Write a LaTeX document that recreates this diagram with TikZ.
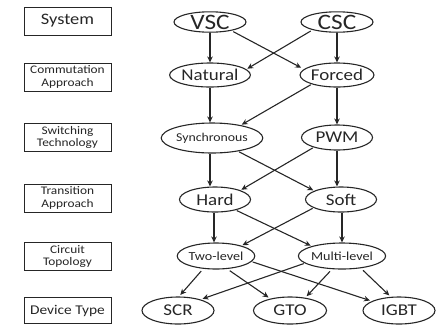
\documentclass[tikz,border=0pt]{standalone}
\usepackage{fontspec}
\setmainfont{Carlito}[FakeStretch=1.15]
\usetikzlibrary{shapes.geometric,arrows.meta}
\definecolor{ink}{HTML}{262626}
\begin{document}
\begin{tikzpicture}[x=1pt,y=-1pt,
  level/.style={draw=ink, line width=1pt, minimum width=87pt, minimum height=28pt,
    inner sep=0pt, align=center, text=ink, font=\fontsize{11.6}{12.5}\selectfont},
  opt/.style={ellipse, draw=ink, line width=1.1pt, inner sep=0pt,
    minimum width=72pt, minimum height=25pt, text=ink, font=\fontsize{16.5}{18}\selectfont},
  arr/.style={-{Stealth[length=6pt,width=5.5pt]}, line width=1.1pt, draw=ink}]
\useasboundingbox (0,0) rectangle (447,325);

% level labels on the left
\node[level, font=\fontsize{16}{18}\selectfont] (L1) at (67.5,21) {System};
\node[level] (L2) at (67.5,77) {Commutation\\Approach};
\node[level] (L3) at (67.5,137.5) {Switching\\Technology};
\node[level] (L4) at (67.5,198) {Transition\\Approach};
\node[level] (L5) at (67.5,256.5) {Circuit\\Topology};
\node[level, minimum height=26pt, font=\fontsize{13.4}{15}\selectfont] (L6) at (67.5,310.5) {Device Type};

% options per level
\node[opt, minimum height=20pt, font=\fontsize{22}{24}\selectfont] (VSC) at (210,22) {VSC};
\node[opt, minimum height=20pt, font=\fontsize{22}{24}\selectfont] (CSC) at (337,22) {CSC};
\node[opt, minimum height=24pt] (NAT) at (210,75) {Natural};
\node[opt, minimum height=24pt] (FOR) at (337,75) {Forced};
\node[opt, minimum width=81pt, minimum height=30pt, font=\fontsize{12}{14}\selectfont] (SYN) at (212,138) {Synchronous};
\node[opt, minimum width=71pt] (PWM) at (337,137.5) {PWM};
\node[opt, minimum width=71pt] (HARD) at (215,199.5) {Hard};
\node[opt, minimum width=71pt] (SOFT) at (341,199.5) {Soft};
\node[opt, minimum width=73pt, minimum height=26pt, font=\fontsize{12.3}{14}\selectfont] (TWO) at (216,256) {Two-level};
\node[opt, minimum width=73pt, minimum height=26pt, font=\fontsize{12.3}{14}\selectfont] (MUL) at (342,256) {Multi-level};
\node[opt, minimum height=27pt] (SCR) at (178,310.5) {SCR};
\node[opt, minimum width=73pt, minimum height=27pt] (GTO) at (290,310.5) {GTO};
\node[opt, minimum height=27pt] (IGBT) at (399,310.5) {IGBT};

% system -> commutation
\draw[arr] (VSC) -- (NAT);
\draw[arr] (CSC) -- (FOR);
\draw[arr, shorten <=2pt, shorten >=3pt] (VSC.-22) -- (FOR.170);
\draw[arr, shorten <=2pt, shorten >=1pt] (CSC.198) -- (NAT.9);

% commutation -> switching
\draw[arr] (NAT.south) -- (NAT.south |- SYN.north);
\draw[arr] (FOR) -- (PWM);
\draw[arr, shorten <=1pt, shorten >=1pt] (FOR.200) -- (SYN.24);

% switching -> transition
\draw[arr] ([xshift=-2pt]SYN.south) -- ([xshift=-2pt]SYN.south |- HARD.north);
\draw[arr] (PWM.south) -- (PWM.south |- SOFT.north);
\draw[arr, shorten <=1pt, shorten >=1pt] (SYN.-27) -- (SOFT.162);
\draw[arr, shorten <=1pt, shorten >=1pt] (PWM.203) -- (HARD.20);

% transition -> topology
\draw[arr] ([xshift=-1pt]HARD.south) -- ([xshift=-1pt]HARD.south |- TWO.north);
\draw[arr] ([xshift=1pt]SOFT.south) -- ([xshift=1pt]SOFT.south |- MUL.north);
\draw[arr, shorten <=1pt, shorten >=1pt] (HARD.-27) -- (MUL.162);
\draw[arr, shorten <=1pt, shorten >=1pt] (SOFT.197) -- (TWO.22);

% topology -> device
\draw[arr, shorten <=3pt, shorten >=2pt] (TWO.-135) -- (SCR.86);
\draw[arr, shorten <=3pt, shorten >=2pt] (TWO.-49) -- (GTO.149);
\draw[arr, shorten <=1pt, shorten >=2pt] (TWO.-9) -- (IGBT.161);
\draw[arr, shorten <=1pt, shorten >=2pt] (MUL.191) -- (SCR.26);
\draw[arr, shorten <=3pt, shorten >=2pt] (MUL.233) -- (GTO.40);
\draw[arr, shorten <=3pt, shorten >=2pt] (MUL.-33) -- (IGBT.121);
\end{tikzpicture}
\end{document}
